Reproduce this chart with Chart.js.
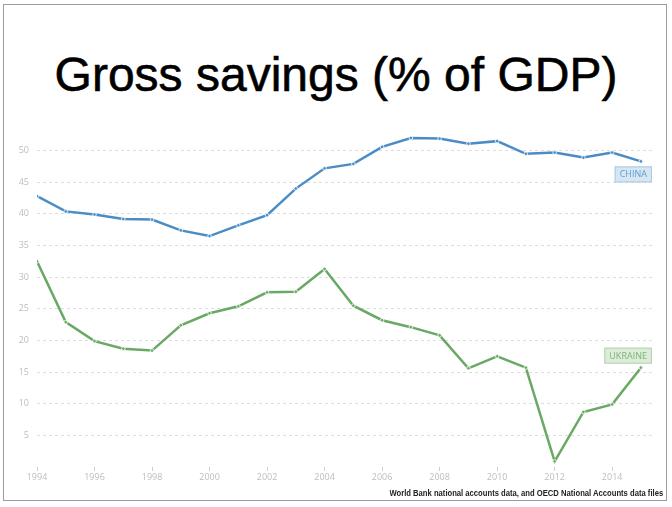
<!DOCTYPE html>
<html>
<head>
<meta charset="utf-8">
<script src="https://cdn.jsdelivr.net/npm/chart.js@4.4.0/dist/chart.umd.min.js"></script>
<style>
  html, body { margin: 0; padding: 0; background: #fff; }
  #wrap { position: relative; width: 672px; height: 507px; overflow: hidden; }
  #frame {
    position: absolute; left: 3px; top: 4px; width: 664px; height: 497px;
    box-sizing: border-box; border: 1.5px solid #9d9d9d;
  }
  #title {
    position: absolute; left: 0; top: 51px; width: 672px; text-align: center;
    font-family: "Liberation Sans", Arial, sans-serif; font-size: 48px; line-height: 48px;
    color: #000; -webkit-text-stroke: 0.6px #000;
  }
  #source {
    position: absolute; right: 9px; top: 488px;
    font-family: "Liberation Sans", Arial, sans-serif; font-size: 8.5px; font-weight: bold;
    color: #222; white-space: nowrap;
    transform: scaleX(0.9); transform-origin: right center;
  }
  canvas { position: absolute; left: 0; top: 0; }
</style>
</head>
<body>
<div id="wrap">
  <div id="frame"></div>
  <div id="title">Gross savings (% of GDP)</div>
  <canvas id="chart" width="672" height="507"></canvas>
  <div id="source">World Bank national accounts data, and OECD National Accounts data files</div>
</div>
<script>
// data
const years = [1994, 1995, 1996, 1997, 1998, 1999, 2000, 2001, 2002, 2003, 2004,
               2005, 2006, 2007, 2008, 2009, 2010, 2011, 2012, 2013, 2014, 2015];
const china = [42.8, 40.4, 39.9, 39.2, 39.1, 37.4, 36.5, 38.2, 39.8, 44.0, 47.2,
               47.9, 50.6, 52.0, 51.9, 51.1, 51.5, 49.5, 49.7, 48.9, 49.7, 48.3];
const ukraine = [32.5, 22.9, 19.9, 18.7, 18.4, 22.4, 24.3, 25.4, 27.6, 27.7, 31.3,
                 25.5, 23.2, 22.1, 20.8, 15.6, 17.5, 15.7, 0.9, 8.7, 9.9, 15.7];
const xTicks = [1994, 1996, 1998, 2000, 2002, 2004, 2006, 2008, 2010, 2012, 2014];
const yTicks = [5, 10, 15, 20, 25, 30, 35, 40, 45, 50];

const chinaColor = '#4a8cc6';
const ukraineColor = '#6aa964';

function toPoints(values) {
    return years.map((y, i) => ({ x: y, y: values[i] }));
}

// boxed series names next to the last point of each line
const seriesTags = {
    id: 'seriesTags',
    afterDatasetsDraw(chart) {
        const ctx = chart.ctx;
        const xs = chart.scales.x, ys = chart.scales.y;
        const tags = [
            { text: 'CHINA', value: china[china.length - 1], dy: 13, fill: '#d7e6f3', stroke: '#a8c8e5', color: '#5f9bcf' },
            { text: 'UKRAINE', value: ukraine[ukraine.length - 1], dy: -12, fill: '#dcecd9', stroke: '#b3d4ae', color: '#7db578' }
        ];
        ctx.save();
        ctx.font = '9px "Open Sans", sans-serif';
        ctx.textAlign = 'center';
        ctx.textBaseline = 'middle';
        tags.forEach(t => {
            const right = xs.getPixelForValue(years[years.length - 1]) + 11;
            const cy = ys.getPixelForValue(t.value) + t.dy;
            const w = ctx.measureText(t.text).width + 10;
            const h = 16;
            ctx.fillStyle = t.fill;
            ctx.strokeStyle = t.stroke;
            ctx.lineWidth = 1;
            ctx.fillRect(right - w, cy - h / 2, w, h);
            ctx.strokeRect(right - w + 0.5, cy - h / 2 + 0.5, w - 1, h - 1);
            ctx.fillStyle = t.color;
            ctx.fillText(t.text, right - w / 2, cy + 0.5);
        });
        ctx.restore();
    }
};

new Chart(document.getElementById('chart').getContext('2d'), {
    type: 'line',
    data: {
        datasets: [{
            label: 'China',
            data: toPoints(china),
            borderColor: chinaColor,
            backgroundColor: chinaColor,
            borderWidth: 2.5,
            pointRadius: 1.8,
            pointBorderColor: '#ffffff',
            pointBorderWidth: 0.8,
            tension: 0
        },
        {
            label: 'Ukraine',
            data: toPoints(ukraine),
            borderColor: ukraineColor,
            backgroundColor: ukraineColor,
            borderWidth: 2.5,
            pointRadius: 1.8,
            pointBorderColor: '#ffffff',
            pointBorderWidth: 0.8,
            tension: 0
        }]
    },
    options: {
        responsive: false,
        animation: false,
        devicePixelRatio: 1,
        layout: { padding: { left: 0, right: 19, top: 119, bottom: 20 } },
        plugins: {
            legend: { display: false },
            tooltip: { enabled: false }
        },
        scales: {
            x: {
                type: 'linear',
                min: 1994,
                max: 2015.42,
                afterBuildTicks(scale) { scale.ticks = xTicks.map(v => ({ value: v })); },
                afterFit(scale) { scale.height = 20; },
                border: { display: false },
                grid: { drawOnChartArea: false, drawTicks: true, tickLength: 4, color: '#cfcfcf' },
                ticks: {
                    padding: 1,
                    maxRotation: 0,
                    color: '#bdbdbd',
                    font: { family: '"Open Sans", sans-serif', size: 9 },
                    callback: v => String(v)
                }
            },
            y: {
                min: 0,
                max: 55,
                afterBuildTicks(scale) { scale.ticks = yTicks.map(v => ({ value: v })); },
                afterFit(scale) { scale.width = 37; },
                border: { display: false, dash: [3, 3] },
                grid: { drawTicks: false, color: '#dddddd', lineWidth: 1 },
                ticks: {
                    padding: 8,
                    color: '#bdbdbd',
                    font: { family: '"Open Sans", sans-serif', size: 9 }
                }
            }
        }
    },
    plugins: [seriesTags]
});
</script>
</body>
</html>
